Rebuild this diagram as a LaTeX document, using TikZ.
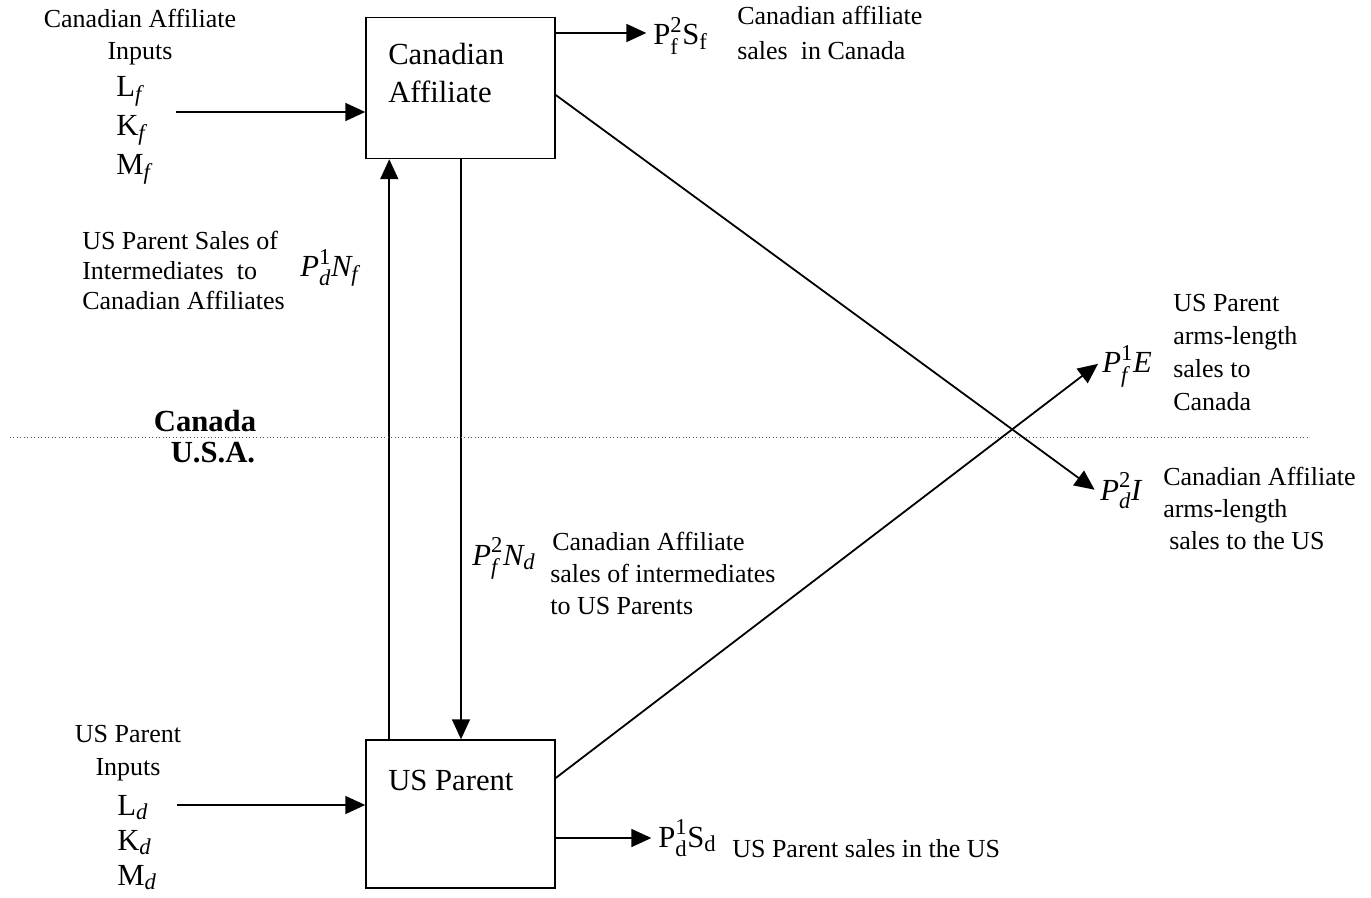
\documentclass[tikz,border=0pt]{standalone}
\usepackage{amsmath}
\usepackage{fontspec}
\setmainfont{Liberation Serif}
\usetikzlibrary{arrows.meta}
\DeclareMathSizes{23}{23}{17}{13}
\newcommand{\lsub}[1]{\raisebox{-0.3ex}{\fontsize{17}{17}\selectfont\itshape #1}}
\begin{document}
\begin{tikzpicture}[x=0.75pt,y=-0.75pt,
  box/.style={draw,line width=1.1pt,minimum width=141.75pt,inner sep=0pt},
  arr/.style={line width=1.35pt,-{Triangle[length=15pt,width=13.5pt]}},
  small/.style={font=\fontsize{19.5}{24}\selectfont,inner sep=0pt},
  big/.style={font=\fontsize{23}{28}\selectfont,inner sep=0pt},
  boldlab/.style={font=\fontsize{23}{28}\selectfont\bfseries,inner sep=0pt},
  divider/.style={dotted,line width=0.6pt,gray!70!black}]
\useasboundingbox (0,0) rectangle (1371,898);

% boxes
\node[box,minimum height=105.75pt] (ca) at (460.5,88) {};
\node[box,minimum height=111pt] (us) at (460.5,814) {};
\node[big,anchor=base west] (caT1) at (388,65) {Canadian};
\node[big,anchor=base west] (caT2) at (388,103) {Affiliate};
\node[big,anchor=base west] (usT) at (388,790) {US Parent};

% Canadian inputs
\node[small,anchor=base] (ci1) at (140,28) {Canadian Affiliate};
\node[small,anchor=base] (ci2) at (140,60) {Inputs};
\node[big,anchor=base west] (lf) at (116,97) {L\lsub{f}};
\node[big,anchor=base west] (kf) at (116,136) {K\lsub{f}};
\node[big,anchor=base west] (mf) at (116,175) {M\lsub{f}};
\coordinate (cain) at (176,112);
\draw[arr] (cain) -- (cain -| ca.west);

% Canadian affiliate sales in Canada
\node[big,anchor=base west] (pfs) at (653,45) {$\textup{P}_{\textup{f}}^{\textup{2}}\textup{S}_{\textup{f}}$};
\node[small,anchor=base west] (pfsT1) at (737,25) {Canadian affiliate};
\node[small,anchor=base west] (pfsT2) at (737,60) {sales\ \ in Canada};
\coordinate (o1) at ([yshift=41.25pt]ca.east);
\draw[arr,shorten >=5pt] (o1) -- (o1 -| pfs.west);

% US Parent sales of intermediates
\node[small,anchor=base west] (upT1) at (82,250) {US Parent Sales of};
\node[small,anchor=base west] (upT2) at (82,280) {Intermediates\ \ to};
\node[small,anchor=base west] (upT3) at (82,310) {Canadian Affiliates};
\node[big,anchor=base west] (pdn) at (300,277) {$\textit{P}_{\textit{d}}^{\textup{1}}\textit{N}_{\textit{f}}$};

% vertical flows
\draw[arr] ([xshift=18pt]us.north west) -- ([xshift=18pt]ca.south west);
\draw[arr] ([xshift=0.375pt]ca.south) -- ([xshift=0.375pt]us.north);

% border
\coordinate (dl) at (10,437);
\coordinate (dr) at (1309,437);
\draw[divider] (dl) -- (dr);
\node[boldlab,anchor=base] (canada) at (205,432) {Canada};
\node[boldlab,anchor=base] (usa) at (213,463) {U.S.A.};

% Canadian affiliate sales of intermediates
\node[big,anchor=base west] (pfn) at (472,565) {$\textit{P}_{\textit{f}}^{\textup{2}}\textit{N}_{\textit{d}}$};
\node[small,anchor=base west] (cfT1) at (552,550) {Canadian Affiliate};
\node[small,anchor=base west] (cfT2) at (550,582) {sales of intermediates};
\node[small,anchor=base west] (cfT3) at (550,614) {to US Parents};

% US parent arms-length sales to Canada
\node[big,anchor=base west] (pfe) at (1102,373) {$\textit{P}_{\textit{f}}^{\textup{1}}\textit{E}$};
\node[small,anchor=base west] (peT1) at (1173,312) {US Parent};
\node[small,anchor=base west] (peT2) at (1173,345) {arms-length};
\node[small,anchor=base west] (peT3) at (1173,378) {sales to};
\node[small,anchor=base west] (peT4) at (1173,411) {Canada};
\draw[arr] ([yshift=27pt]us.east) -- ([xshift=-3pt,yshift=2pt]pfe.west);

% Canadian affiliate arms-length sales to US
\node[big,anchor=base west] (pdi) at (1100,500) {$\textit{P}_{\textit{d}}^{\textup{2}}\textit{I}$};
\node[small,anchor=base west] (ciT1) at (1163,485) {Canadian Affiliate};
\node[small,anchor=base west] (ciT2) at (1163,517) {arms-length};
\node[small,anchor=base west] (ciT3) at (1169,549) {sales to the US};
\draw[arr] ([yshift=-5.25pt]ca.east) -- ([xshift=-4pt,yshift=1pt]pdi.west);

% US parent inputs
\node[small,anchor=base] (ui1) at (128,742) {US Parent};
\node[small,anchor=base] (ui2) at (128,775) {Inputs};
\node[big,anchor=base west] (ld) at (117,815) {L\lsub{d}};
\node[big,anchor=base west] (kd) at (117,850) {K\lsub{d}};
\node[big,anchor=base west] (md) at (117,885) {M\lsub{d}};
\coordinate (usin) at (177,805);
\draw[arr] (usin) -- (usin -| us.west);

% US parent sales in the US
\node[big,anchor=base west] (pds) at (658,847) {$\textup{P}_{\textup{d}}^{\textup{1}}\textup{S}_{\textup{d}}$};
\node[small,anchor=base west] (pdsT) at (732,857) {US Parent sales in the US};
\coordinate (o2) at ([yshift=-18pt]us.east);
\draw[arr,shorten >=5pt] (o2) -- (o2 -| pds.west);
\end{tikzpicture}
\end{document}
